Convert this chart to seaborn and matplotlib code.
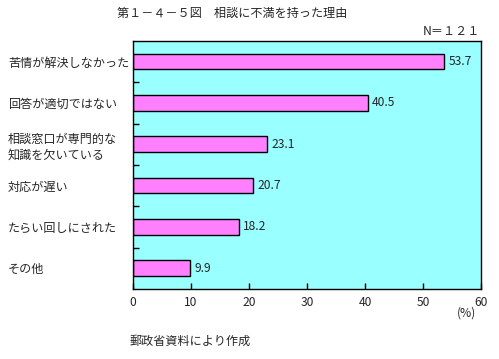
import numpy as np
import matplotlib
matplotlib.use("Agg")
import matplotlib.pyplot as plt
import seaborn as sns
import pandas as pd

# data
categories = ["苦情が解決しなかった", "回答が適切ではない", "相談窓口が専門的な\n知識を欠いている",
              "対応が遅い", "たらい回しにされた", "その他"]
values = [53.7, 40.5, 23.1, 20.7, 18.2, 9.9]
xticks = [0, 10, 20, 30, 40, 50, 60]

sns.set_theme(style="white")
plt.rcParams['font.family'] = ['Noto Sans CJK JP', 'DejaVu Sans']
FS = 8.7

df = pd.DataFrame({"reason": categories, "pct": values})

fig = plt.figure(figsize=(4.99, 3.59), dpi=100)
ax = fig.add_axes([0.2665, 0.195, 0.6975, 0.691])
ax.set_facecolor("#99ffff")

sns.barplot(data=df, y="reason", x="pct", orient="h", color="#ff80ff",
            saturation=1, width=0.38, edgecolor="black", linewidth=1, ax=ax)

for c in ax.containers:
    ax.bar_label(c, fmt="%.1f", padding=3, fontsize=FS)

ax.set_xlim(0, 60)
ax.set_ylim(len(categories) - 0.5, -0.5)
ax.set_xticks(xticks)
ax.set_xticklabels([str(t) for t in xticks], fontsize=FS)
ax.set_xlabel("")
ax.set_ylabel("")

# category labels, left aligned far from the axis
ax.set_yticks(range(len(categories)))
ax.set_yticklabels(categories, fontsize=FS, ha="left", linespacing=1.25)
ax.tick_params(axis="y", which="major", length=0, pad=90)
ax.set_yticks(np.arange(0.5, len(categories) - 0.5, 1), minor=True)
ax.tick_params(axis="y", which="minor", direction="in", length=4, width=1, color="black", left=True)
ax.tick_params(axis="x", direction="in", length=4, width=1, color="black", bottom=True, pad=5)

for s in ax.spines.values():
    s.set_color("black")
    s.set_linewidth(1)

fig.text(0.465, 0.962, "第１－４－５図　相談に不満を持った理由", ha="center", va="center", fontsize=FS)
fig.text(0.962, 0.913, "N＝１２１", ha="right", va="center", fontsize=FS)
fig.text(0.934, 0.128, "(%)", ha="center", va="center", fontsize=FS)
fig.text(0.26, 0.05, "郵政省資料により作成", ha="left", va="center", fontsize=FS)

fig.savefig("out.png", dpi=100)
